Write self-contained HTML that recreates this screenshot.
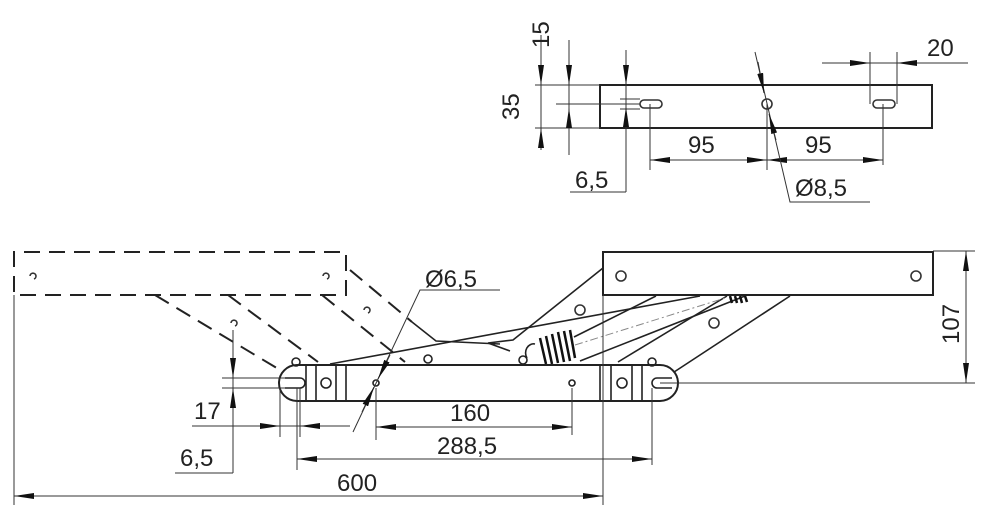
<!DOCTYPE html>
<html><head><style>body{margin:0;background:#fff}svg{display:block}text{font-family:"Liberation Sans",sans-serif;font-size:24px;fill:#222}</style></head>
<body>
<svg width="987" height="520" viewBox="0 0 987 520" xmlns="http://www.w3.org/2000/svg">
<defs>
<marker id="a" viewBox="0 0 20 6" refX="20" refY="3" markerWidth="20" markerHeight="6" orient="auto-start-reverse" markerUnits="userSpaceOnUse"><path d="M0,0 L20,3 L0,6 z" fill="#111"/></marker>
</defs>
<g stroke="#333" stroke-width="1" fill="none">
<rect x="600" y="85" width="332" height="43" stroke-width="2" stroke="#222"/>
<rect x="640" y="100" width="22" height="8" rx="4" stroke-width="1.6"/>
<rect x="873" y="100" width="22" height="8" rx="4" stroke-width="1.6"/>
<circle cx="767" cy="104" r="5" stroke-width="1.6"/>
<line x1="535" y1="85" x2="600" y2="85"/><line x1="535" y1="128" x2="600" y2="128"/><line x1="556" y1="104" x2="640" y2="104"/>
<line x1="620" y1="99" x2="640" y2="99"/><line x1="620" y1="109" x2="640" y2="109"/>
<line x1="541" y1="35" x2="541" y2="145"/>
<line x1="541" y1="55" x2="541" y2="85" marker-end="url(#a)"/><line x1="541" y1="150" x2="541" y2="128" marker-end="url(#a)"/>
<line x1="569" y1="40" x2="569" y2="155"/>
<line x1="569" y1="60" x2="569" y2="85" marker-end="url(#a)"/><line x1="569" y1="130" x2="569" y2="108" marker-end="url(#a)"/>
<line x1="626" y1="50" x2="626" y2="192"/><line x1="570" y1="192" x2="626" y2="192"/>
<line x1="626" y1="60" x2="626" y2="85" marker-end="url(#a)"/><line x1="626" y1="130" x2="626" y2="107" marker-end="url(#a)"/>
<line x1="650" y1="104" x2="650" y2="170"/><line x1="883" y1="104" x2="883" y2="165"/><line x1="767" y1="104" x2="767" y2="170"/>
<line x1="650" y1="160" x2="883" y2="160"/>
<line x1="680" y1="160" x2="650" y2="160" marker-end="url(#a)"/><line x1="740" y1="160" x2="767" y2="160" marker-end="url(#a)"/>
<line x1="795" y1="160" x2="767" y2="160" marker-end="url(#a)"/><line x1="855" y1="160" x2="883" y2="160" marker-end="url(#a)"/>
<polyline points="755,52 790,202 870,202"/>
<line x1="758" y1="62" x2="764" y2="93" marker-end="url(#a)"/><line x1="776" y1="140" x2="769" y2="114" marker-end="url(#a)"/>
<line x1="870" y1="52" x2="870" y2="104"/><line x1="897" y1="52" x2="897" y2="104"/>
<line x1="822" y1="63" x2="968" y2="63"/>
<line x1="840" y1="63" x2="870" y2="63" marker-end="url(#a)"/><line x1="925" y1="63" x2="897" y2="63" marker-end="url(#a)"/>
<g stroke="#222" stroke-width="2" stroke-dasharray="16,9">
<polyline points="14,292 14,252 346,252 346,295 14,295"/>
<line x1="155" y1="295" x2="290" y2="376"/>
<line x1="228" y1="295" x2="318" y2="362"/>
<line x1="322" y1="295" x2="405" y2="362"/>
<line x1="350" y1="270" x2="412" y2="322"/>
</g>
<path d="M30,276 a3,3 0 1 1 4,3" stroke-width="1.6"/><path d="M323,276 a3,3 0 1 1 4,3" stroke-width="1.6"/>
<path d="M231,323 a3,3 0 1 1 4,3" stroke-width="1.6"/><path d="M364,310 a3,3 0 1 1 4,3" stroke-width="1.6"/>
<rect x="603" y="252" width="330" height="43" stroke-width="2" stroke="#222"/>
<circle cx="621" cy="276" r="5" stroke-width="1.6"/><circle cx="916" cy="276" r="5" stroke-width="1.6"/>
<circle cx="580" cy="310" r="5" stroke-width="1.6"/><circle cx="714" cy="323" r="5" stroke-width="1.6"/>
<g stroke="#222" stroke-width="1.6">
<polyline points="603,268 513,340 488,343 510,351"/>
<polyline points="412,322 436,341 500,344"/>
<line x1="330" y1="364" x2="700" y2="296"/>
<line x1="574" y1="337" x2="656" y2="296"/>
<line x1="580" y1="361" x2="745" y2="296"/>
<line x1="618" y1="362" x2="727" y2="296"/>
<line x1="668" y1="376" x2="790" y2="296"/>
<path d="M527,358 a8,9 0 0 1 8,-14" />
<circle cx="523" cy="360" r="4"/>
</g>
<line x1="575" y1="345" x2="725" y2="298" stroke-dasharray="8,3,2,3" stroke="#888"/>
<g stroke="#111" stroke-width="2.5">
<line x1="540" y1="338" x2="546" y2="364"/><line x1="546" y1="336" x2="552" y2="364"/><line x1="552" y1="334" x2="558" y2="363"/><line x1="558" y1="332" x2="564" y2="362"/><line x1="564" y1="331" x2="570" y2="361"/><line x1="570" y1="330" x2="575" y2="358"/>
<line x1="730" y1="296" x2="732" y2="303"/><line x1="735" y1="296" x2="737" y2="303"/><line x1="740" y1="296" x2="742" y2="303"/><line x1="745" y1="296" x2="747" y2="302"/>
</g>
<path d="M297,365 L660,365 A18,18 0 0 1 660,401 L297,401 A18,18 0 0 1 297,365 Z" stroke="#222" stroke-width="2" fill="#fff"/>
<path d="M285,378 L300,378 A5,5 0 0 1 300,388 L285,388" stroke="#222" stroke-width="1.6"/>
<path d="M672,378 L657,378 A5,5 0 0 0 657,388 L672,388" stroke="#222" stroke-width="1.6"/>
<g stroke="#222" stroke-width="1.6">
<line x1="306" y1="365" x2="306" y2="401"/><line x1="316" y1="365" x2="316" y2="401"/><line x1="336" y1="365" x2="336" y2="401"/><line x1="346" y1="365" x2="346" y2="401"/>
<line x1="600" y1="365" x2="600" y2="401"/><line x1="611" y1="365" x2="611" y2="401"/><line x1="632" y1="365" x2="632" y2="401"/><line x1="642" y1="365" x2="642" y2="401"/>
<circle cx="326" cy="383" r="5"/><circle cx="622" cy="383" r="5"/>
<circle cx="376" cy="383" r="3"/><circle cx="572" cy="383" r="3"/>
<circle cx="296" cy="362" r="4"/><circle cx="652" cy="362" r="4"/><circle cx="428" cy="359" r="4"/>
</g>
<line x1="603" y1="295" x2="603" y2="505"/>
<line x1="14" y1="295" x2="14" y2="505"/>
<line x1="14" y1="496" x2="603" y2="496"/>
<line x1="45" y1="496" x2="14" y2="496" marker-end="url(#a)"/><line x1="570" y1="496" x2="603" y2="496" marker-end="url(#a)"/>
<line x1="297" y1="388" x2="297" y2="470"/><line x1="652" y1="388" x2="652" y2="465"/>
<line x1="297" y1="459" x2="652" y2="459"/>
<line x1="325" y1="459" x2="297" y2="459" marker-end="url(#a)"/><line x1="625" y1="459" x2="652" y2="459" marker-end="url(#a)"/>
<line x1="376" y1="388" x2="376" y2="440"/><line x1="572" y1="388" x2="572" y2="435"/>
<line x1="376" y1="427" x2="572" y2="427"/>
<line x1="400" y1="427" x2="376" y2="427" marker-end="url(#a)"/><line x1="545" y1="427" x2="572" y2="427" marker-end="url(#a)"/>
<line x1="280" y1="388" x2="280" y2="437"/><line x1="300" y1="388" x2="300" y2="437"/>
<line x1="192" y1="426" x2="350" y2="426"/>
<line x1="255" y1="426" x2="280" y2="426" marker-end="url(#a)"/><line x1="325" y1="426" x2="300" y2="426" marker-end="url(#a)"/>
<line x1="222" y1="378" x2="285" y2="378"/><line x1="222" y1="388" x2="285" y2="388"/>
<line x1="233" y1="330" x2="233" y2="473"/><line x1="175" y1="473" x2="233" y2="473"/>
<line x1="233" y1="352" x2="233" y2="378" marker-end="url(#a)"/><line x1="233" y1="412" x2="233" y2="388" marker-end="url(#a)"/>
<polyline points="353,432 420,290 500,290"/>
<line x1="390" y1="355" x2="378" y2="379" marker-end="url(#a)"/><line x1="362" y1="412" x2="374" y2="387" marker-end="url(#a)"/>
<line x1="660" y1="383" x2="975" y2="383"/><line x1="933" y1="251" x2="975" y2="251"/>
<line x1="966" y1="251" x2="966" y2="383"/>
<line x1="966" y1="280" x2="966" y2="251" marker-end="url(#a)"/><line x1="966" y1="355" x2="966" y2="383" marker-end="url(#a)"/>
</g>
<text x="688" y="153">95</text><text x="805" y="153">95</text>
<text x="575" y="188">6,5</text><text x="795" y="196">Ø8,5</text>
<text x="927" y="56">20</text>
<text transform="translate(549,48) rotate(-90)">15</text>
<text transform="translate(519,120) rotate(-90)">35</text>
<text x="425" y="287">Ø6,5</text>
<text x="194" y="419">17</text><text x="180" y="466">6,5</text>
<text x="450" y="421">160</text><text x="437" y="454">288,5</text>
<text x="337" y="491">600</text>
<text transform="translate(959,344) rotate(-90)">107</text>
</svg>
</body></html>
